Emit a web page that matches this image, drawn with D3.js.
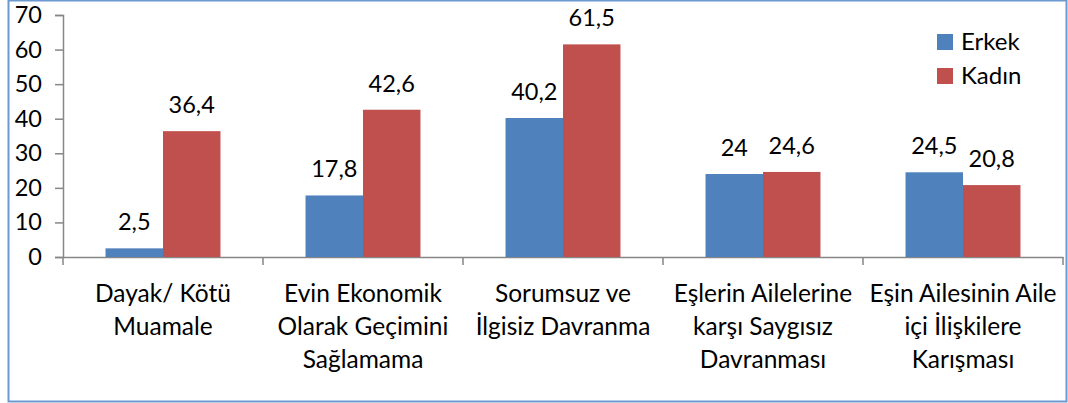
<!DOCTYPE html>
<html>
<head>
<meta charset="utf-8">
<script src="https://cdn.jsdelivr.net/npm/d3@7"></script>
<style>
  body { margin: 0; background: #fff; }
  svg text { font-family: Lato, "Open Sans", sans-serif; fill: #000; }
</style>
</head>
<body>
<div id="chart"></div>
<script>
const categories = [
  "Dayak/ Kötü\nMuamale",
  "Evin Ekonomik\nOlarak Geçimini\nSağlamama",
  "Sorumsuz ve\nİlgisiz Davranma",
  "Eşlerin Ailelerine\nkarşı Saygısız\nDavranması",
  "Eşin Ailesinin Aile\niçi İlişkilere\nKarışması"
];
const seriesNames = ["Erkek", "Kadın"];
const erkek = [2.5, 17.8, 40.2, 24, 24.5];
const kadin = [36.4, 42.6, 61.5, 24.6, 20.8];
const yTicks = [0, 10, 20, 30, 40, 50, 60, 70];

const COLORS = ['#4f81bd', '#c0504d'];
const width = 1068, height = 403;
const margin = {left: 63, right: 5, top: 15, bottom: 146};

const svg = d3.select('#chart').append('svg')
  .attr('width', width)
  .attr('height', height);

// chart frame
svg.append('rect')
  .attr('x', 8.5).attr('y', 0.5)
  .attr('width', 1058).attr('height', 401)
  .attr('fill', 'none')
  .attr('stroke', '#6d99d1')
  .attr('stroke-width', 2);

const x0 = d3.scaleBand()
  .domain(categories)
  .range([margin.left, width - margin.right])
  .padding(0);

const x1 = d3.scaleBand()
  .domain(seriesNames)
  .range([0, x0.bandwidth()])
  .paddingInner(0)
  .paddingOuter(0.74);

const y = d3.scaleLinear()
  .domain([0, 70])
  .range([height - margin.bottom, margin.top]);

const color = d3.scaleOrdinal(seriesNames, COLORS);

// y axis
let yAxis = svg.append('g')
  .attr('transform', 'translate(' + margin.left + ',0)')
  .call(d3.axisLeft(y).tickValues(yTicks).tickSize(8).tickPadding(13).tickFormat(d3.format('d')));
yAxis.select('.domain').attr('stroke', '#868686').attr('stroke-width', 1.5);
yAxis.selectAll('.tick line').attr('stroke', '#868686').attr('stroke-width', 1.5);
yAxis.selectAll('.tick text').attr('font-size', 23.5).style('font-family', 'Lato, sans-serif').attr('fill', '#000');

// x axis
let xAxis = svg.append('g')
  .attr('transform', 'translate(0,' + y(0) + ')')
  .call(d3.axisBottom(x0).tickSize(0).tickFormat(''));
xAxis.select('.domain').attr('stroke', '#868686').attr('stroke-width', 1.5);

// category boundary ticks
const bounds = categories.map(c => x0(c)).concat([x0.range()[1]]);
svg.append('g').selectAll('line')
  .data(bounds)
  .enter().append('line')
  .attr('x1', d => d).attr('x2', d => d)
  .attr('y1', y(0)).attr('y2', y(0) + 8)
  .attr('stroke', '#868686')
  .attr('stroke-width', 1.5);

// category labels
let catLabels = svg.append('g').selectAll('text')
  .data(categories)
  .enter().append('text')
  .attr('text-anchor', 'middle')
  .attr('font-size', 24.5)
  .attr('x', d => x0(d) + x0.bandwidth() / 2)
  .attr('y', y(0) + 45);

catLabels.selectAll('tspan')
  .data(d => d.split('\n'))
  .enter().append('tspan')
  .attr('x', function() { return this.parentNode.getAttribute('x'); })
  .attr('dy', (d, i) => i === 0 ? 0 : 33)
  .text(d => d);

// bars
const rows = categories.map((c, i) => ({
  cat: c,
  values: [
    {name: seriesNames[0], value: erkek[i]},
    {name: seriesNames[1], value: kadin[i]}
  ]
}));

let groups = svg.append('g').selectAll('g')
  .data(rows)
  .enter().append('g')
  .attr('transform', d => 'translate(' + x0(d.cat) + ',0)');

groups.selectAll('rect')
  .data(d => d.values)
  .enter().append('rect')
  .attr('x', d => x1(d.name))
  .attr('width', x1.bandwidth())
  .attr('y', d => y(d.value))
  .attr('height', d => y(0) - y(d.value))
  .attr('fill', d => color(d.name));

groups.selectAll('text')
  .data(d => d.values)
  .enter().append('text')
  .attr('text-anchor', 'middle')
  .attr('font-size', 23.5)
  .attr('x', d => x1(d.name) + x1.bandwidth() / 2)
  .attr('y', d => y(d.value) - 18)
  .text(d => String(d.value).replace('.', ','));

// legend
let legend = svg.append('g').selectAll('g')
  .data(seriesNames)
  .enter().append('g')
  .attr('transform', (d, i) => 'translate(937,' + (34 + i * 34) + ')');

legend.append('rect')
  .attr('width', 16).attr('height', 16)
  .attr('fill', d => color(d));

legend.append('text')
  .attr('x', 24).attr('y', 8)
  .attr('dy', '0.35em')
  .attr('font-size', 24)
  .text(d => d);
</script>
</body>
</html>
